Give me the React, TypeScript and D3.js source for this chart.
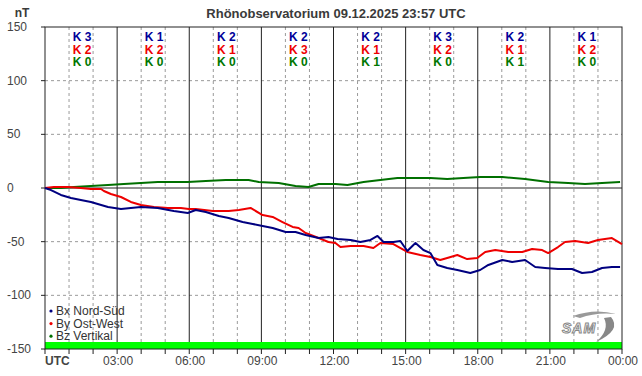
import React from "react";
import * as d3 from "d3";

const W = 642;
const H = 376;

const yTicks = [150, 100, 50, 0, -50, -100, -150];
const xTickLabels = ["UTC", "03:00", "06:00", "09:00", "12:00", "15:00", "18:00", "21:00", "00:00"];
const hours = d3.range(0, 25);

// K indices per 3-hour block: [Bx, By, Bz]
const kBx = [3, 1, 2, 2, 2, 3, 2, 1];
const kBy = [2, 2, 1, 3, 1, 2, 1, 2];
const kBz = [0, 0, 0, 0, 1, 0, 1, 0];

// [hour, nT]
const bx: [number, number][] = [
  [0, 0], [0.25, -1.9], [0.66, -6.5], [1.08, -9.3], [1.49, -11.2], [1.91, -13.0], [2.62, -17.7],
  [3.16, -19.6], [3.57, -18.6], [3.99, -17.7], [4.69, -18.6], [5.36, -21.4], [5.94, -23.3],
  [6.27, -20.5], [6.69, -22.4], [7.23, -26.1], [7.64, -28.0], [8.22, -31.7], [8.64, -33.5],
  [9.05, -35.4], [9.47, -37.3], [10.01, -41.0], [10.42, -41.0], [10.84, -43.8], [11.38, -46.6],
  [11.79, -45.7], [12.17, -47.5], [12.71, -48.4], [13.12, -50.3], [13.54, -48.4], [13.83, -44.7],
  [14.08, -50.3], [14.49, -50.3], [14.78, -49.4], [15.07, -58.7], [15.41, -51.2], [15.74, -57.8],
  [16.03, -60.6], [16.32, -71.7], [16.73, -74.5], [17.15, -76.4], [17.69, -79.2], [18.1, -76.4],
  [18.44, -71.7], [19.02, -67.1], [19.43, -68.9], [19.97, -67.1], [20.39, -73.6], [20.8, -74.5],
  [21.34, -75.5], [21.92, -75.5], [22.34, -79.2], [22.75, -78.3], [23.17, -74.5], [23.58, -73.6],
  [23.92, -73.6],
];

const by: [number, number][] = [
  [0, 0], [0.37, 0.9], [0.96, 0.9], [1.49, 0], [1.91, -0.9], [2.33, -0.9], [2.45, -2.8],
  [2.74, -5.6], [3.16, -8.4], [3.57, -13.0], [3.99, -15.8], [4.53, -17.7], [5.11, -18.6],
  [5.65, -18.6], [5.98, -19.6], [6.27, -19.6], [6.98, -21.4], [7.64, -21.4], [8.06, -20.5],
  [8.55, -18.6], [9.05, -25.2], [9.47, -27.0], [9.88, -31.7], [10.3, -36.3], [10.55, -37.3],
  [10.84, -41.9], [11.38, -46.6], [11.79, -50.3], [12.08, -51.2], [12.29, -55.0], [12.71, -54.0],
  [13.25, -54.0], [13.66, -55.9], [13.95, -51.2], [14.49, -52.2], [15.07, -59.6], [15.61, -62.4],
  [16.03, -64.3], [16.44, -67.1], [16.73, -65.2], [17.15, -62.4], [17.56, -66.2], [17.98, -65.2],
  [18.31, -59.6], [18.73, -57.8], [19.27, -59.6], [19.85, -59.6], [20.26, -56.8], [20.68, -57.8],
  [20.93, -60.6], [21.34, -55.0], [21.63, -50.3], [22.05, -49.4], [22.59, -51.2], [23.0, -48.4],
  [23.58, -46.6], [24.0, -52.2],
];

const bz: [number, number][] = [
  [0, 0], [0.66, 0], [1.2, 0.9], [1.91, 1.9], [2.62, 2.8], [3.28, 3.7], [3.99, 4.7], [4.69, 5.6],
  [5.36, 5.6], [5.94, 5.6], [6.69, 6.5], [7.52, 7.5], [8.47, 7.5], [8.89, 5.6], [9.72, 4.7],
  [10.42, 1.9], [10.96, 0.9], [11.38, 3.7], [12.08, 3.7], [12.58, 2.8], [13.25, 5.6], [13.95, 7.5],
  [14.66, 9.3], [16.03, 9.3], [16.73, 8.4], [17.4, 9.3], [18.1, 10.2], [19.02, 10.2], [19.97, 8.4],
  [20.93, 5.6], [21.76, 4.7], [22.46, 3.7], [23.17, 4.7], [23.92, 5.6],
];

const legendItems = [
  { label: "Bx Nord-Süd", color: "#000080" },
  { label: "By Ost-West", color: "#ee0000" },
  { label: "Bz Vertikal", color: "#007000" },
];

const FONT = "'Liberation Sans', Arial, sans-serif";

export default function App() {
  const left = 45, right = 622, top = 27, bottom = 349;
  const x = d3.scaleLinear().domain([0, 24]).range([left, right]);
  const y = d3.scaleLinear().domain([-150, 150]).range([bottom, top]);
  const line = d3.line<[number, number]>().x((d) => x(d[0])).y((d) => y(d[1]));

  const series = [
    { data: bz, color: "#007000" },
    { data: by, color: "#ee0000" },
    { data: bx, color: "#000080" },
  ];
  const kColors = ["#000099", "#ee0000", "#007700"];
  const kRows = [kBx, kBy, kBz];

  return (
    <svg width={W} height={H} style={{ position: "absolute", left: 0, top: 0, background: "#fff" }} fontFamily={FONT}>
      <rect x={0} y={0} width={W} height={H} fill="#fff" />
      {/* title */}
      <text x={336} y={18} textAnchor="middle" fontSize={13} fontWeight="bold" fill="#3a3a3a">
        Rhönobservatorium 09.12.2025 23:57 UTC
      </text>
      <text x={22} y={17} textAnchor="middle" fontSize={12} fontWeight="bold" fill="#3a3a3a">nT</text>

      {/* hourly dashed grid */}
      {hours.filter((h) => h % 3 !== 0).map((h) => (
        <line key={"vd" + h} x1={x(h)} x2={x(h)} y1={top} y2={bottom} stroke="#9a9a9a" strokeDasharray="3,3" strokeWidth={1} />
      ))}
      {yTicks.filter((v) => v !== 0 && Math.abs(v) !== 150).map((v) => (
        <line key={"hd" + v} x1={left} x2={right} y1={y(v)} y2={y(v)} stroke="#9a9a9a" strokeDasharray="3,3" strokeWidth={1} />
      ))}
      {/* solid 3h grid */}
      {hours.filter((h) => h % 3 === 0 && h > 0 && h < 24).map((h) => (
        <line key={"vs" + h} x1={x(h)} x2={x(h)} y1={top} y2={bottom} stroke="#222" strokeWidth={1} />
      ))}
      <line x1={left} x2={right} y1={y(0)} y2={y(0)} stroke="#222" strokeWidth={1} />

      {/* green band */}
      <rect x={left} y={y(-150) - 7} width={right - left} height={7} fill="#00ff00" />

      {/* frame */}
      <rect x={left} y={top} width={right - left} height={bottom - top} fill="none" stroke="#222" strokeWidth={1} />

      {/* y ticks */}
      {yTicks.map((v) => (
        <g key={"yt" + v}>
          <line x1={left - 4} x2={left} y1={y(v)} y2={y(v)} stroke="#222" />
          <text x={7} y={y(v) + 4} fontSize={12} fill="#444">{v}</text>
        </g>
      ))}
      {/* x ticks */}
      {hours.map((h) => (
        <line key={"xt" + h} x1={x(h)} x2={x(h)} y1={bottom} y2={bottom + 5} stroke="#222" />
      ))}
      {xTickLabels.map((t, i) => (
        i === 0 ? (
          <text key={t} x={x(0)} y={365} fontSize={12} fontWeight="bold" fill="#444">{t}</text>
        ) : (
          <text key={t} x={x(i * 3) + 1} y={365} fontSize={12} textAnchor="middle" fill="#444">{t}</text>
        )
      ))}

      {/* K indices */}
      {kBx.map((_, b) => (
        <g key={"k" + b}>
          {kRows.map((row, r) => (
            <text key={r} x={x(b * 3 + 1.5) + 1} y={41 + r * 12.7} textAnchor="middle" fontSize={12} fontWeight="bold" fill={kColors[r]}>
              {"K " + row[b]}
            </text>
          ))}
        </g>
      ))}

      {/* series */}
      {series.map((s, i) => (
        <path key={i} d={line(s.data) || ""} fill="none" stroke={s.color} strokeWidth={2} strokeLinejoin="round" />
      ))}

      {/* legend */}
      {legendItems.map((it, i) => (
        <g key={it.label}>
          <circle cx={51} cy={311 + i * 12.6} r={1.6} fill={it.color} />
          <text x={56} y={315 + i * 12.6} fontSize={12} fill="#333">{it.label}</text>
        </g>
      ))}

      {/* SAM logo */}
      <g>
        <path d="M573,316 Q595,308 616,314 Q596,312 580,318 Z" fill="#999" />
        <path d="M611,317 Q622,330 596,342 Q610,330 604,318 Z" fill="#888" />
        <text x={579} y={333} textAnchor="middle" fontSize={14} fontStyle="italic" fontWeight="bold" fill="#fff" stroke="#888" strokeWidth={1} letterSpacing={1}>SAM</text>
      </g>
    </svg>
  );
}
